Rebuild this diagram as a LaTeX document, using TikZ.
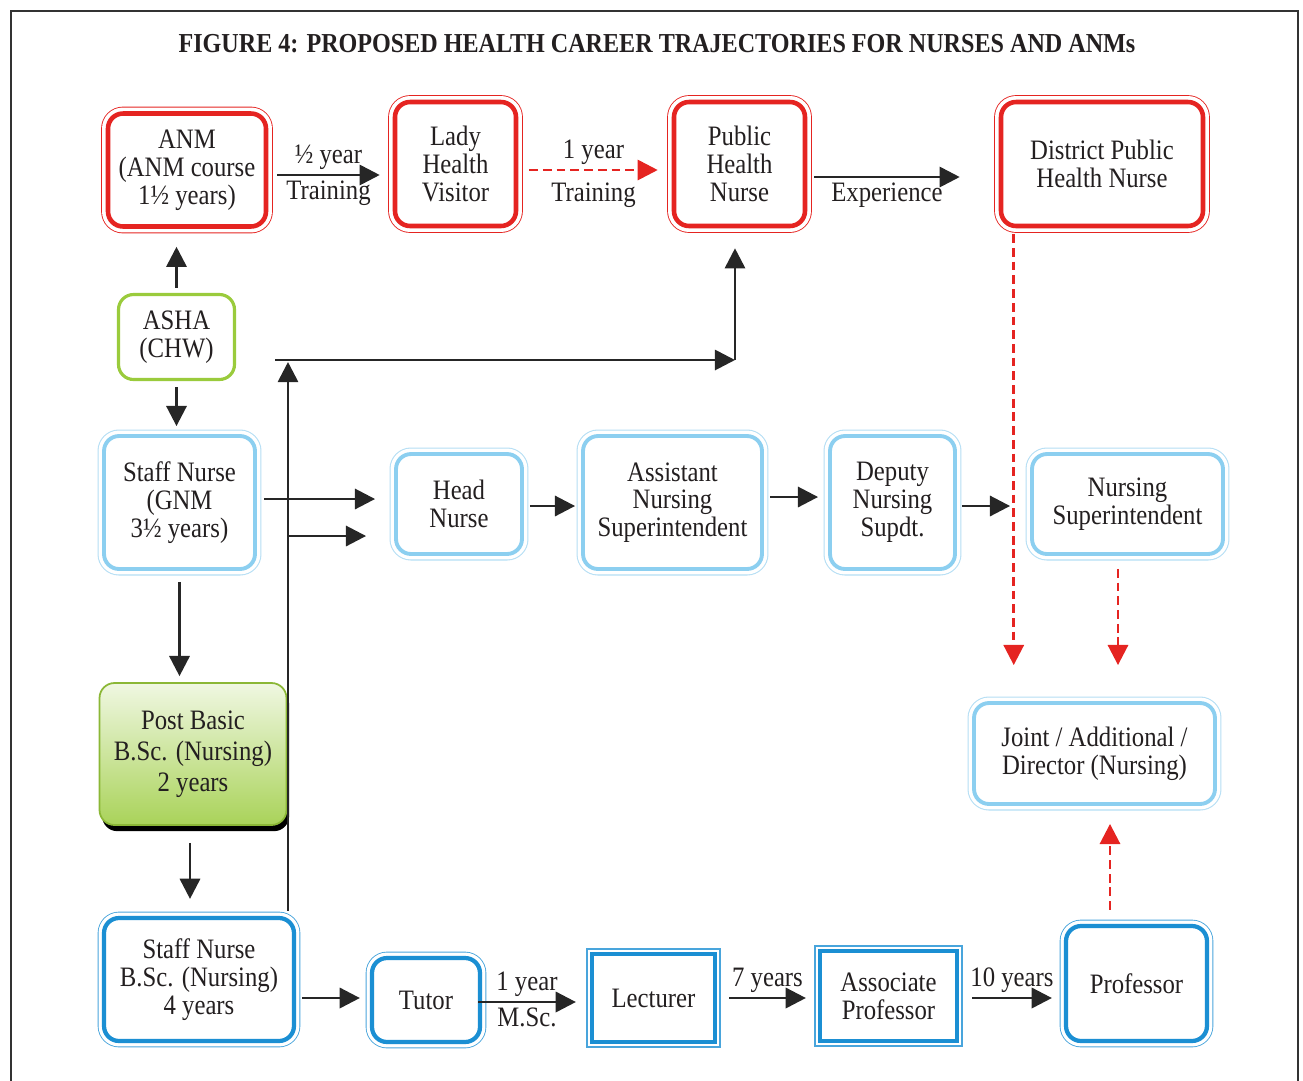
\documentclass[tikz,border=0pt]{standalone}
\usepackage{fontspec}
\setmainfont[FakeStretch=0.88]{Liberation Serif}
\usepackage{xcolor}
\usetikzlibrary{arrows.meta, calc, shadows}
\definecolor{boxred}{HTML}{E52421}
\definecolor{skyout}{HTML}{B4DEF4}
\definecolor{skyin}{HTML}{8CCFF0}
\definecolor{seablue}{HTML}{1B8FD3}
\definecolor{leaf}{HTML}{9ACB3C}
\definecolor{ink}{HTML}{231F20}

\begin{document}
\begin{tikzpicture}[x=0.02cm, y=-0.02cm,
    txt/.style={text=ink, align=center, font=\fontsize{16}{15.8}\selectfont},
    redbox/.style={txt, rounded corners=0.3cm, draw=boxred, line width=2.6pt, fill=white,
        preaction={draw=boxred, line width=7.8pt}, preaction={draw=white, line width=6.8pt}},
    paleblue/.style={txt, rounded corners=0.3cm, draw=skyin, line width=2.2pt, fill=white,
        preaction={draw=skyout, line width=7.4pt}, preaction={draw=white, line width=6.2pt}},
    deepblue/.style={txt, rounded corners=0.3cm, draw=seablue, line width=2.4pt, fill=white,
        preaction={draw=seablue!80, line width=7.2pt}, preaction={draw=white, line width=6.2pt}},
    squareblue/.style={deepblue, sharp corners,
        preaction={draw=seablue!80, line width=5.4pt}, preaction={draw=white, line width=4.2pt}},
    greenbox/.style={txt, rounded corners=0.3cm, draw=leaf, line width=1.8pt, fill=white},
    arr/.style={draw=black!85, line width=1.6pt, -{Triangle[length=11.5pt, width=11.5pt]}},
    redarr/.style={draw=boxred, line width=1.6pt, dash pattern=on 5pt off 2.8pt,
        -{Triangle[length=11.5pt, width=11.5pt]}},
    lbl/.style={txt, inner sep=2.5pt}]

\useasboundingbox (0,0) rectangle (1303,1080);
\draw[black!80, line width=1.2pt] (11,1095) -- (11,11) -- (1298,11) -- (1298,1095);

\node[font=\bfseries\fontsize{15.6}{18}\selectfont, text=ink] (title) at (657,44)
    {FIGURE 4: PROPOSED HEALTH CAREER TRAJECTORIES FOR NURSES AND ANMs};

% top row
\node[redbox, minimum width=3.16cm, minimum height=2.26cm] (anm) at (187,170) {ANM\\(ANM course\\1½ years)};
\node[redbox, minimum width=2.42cm, minimum height=2.48cm] (lhv) at (455.5,164) {Lady\\Health\\Visitor};
\node[redbox, minimum width=2.62cm, minimum height=2.48cm] (phn) at (739.5,164) {Public\\Health\\Nurse};
\node[redbox, minimum width=4.04cm, minimum height=2.48cm] (dphn) at (1102,164) {District Public\\Health Nurse};

\node[greenbox, minimum width=2.32cm, minimum height=1.70cm] (asha) at (176.5,337) {ASHA\\(CHW)};

% middle row
\node[paleblue, minimum width=3.02cm, minimum height=2.66cm] (gnm) at (179.5,502.5) {Staff Nurse\\(GNM\\3½ years)};
\node[paleblue, minimum width=2.52cm, minimum height=2.00cm] (head) at (459,504) {Head\\Nurse};
\node[paleblue, minimum width=3.58cm, minimum height=2.66cm] (ans) at (672.5,502.5) {Assistant\\Nursing\\Superintendent};
\node[paleblue, minimum width=2.50cm, minimum height=2.66cm] (dns) at (892.5,502.5) {Deputy\\Nursing\\Supdt.};
\node[paleblue, minimum width=3.82cm, minimum height=2.00cm] (ns) at (1127.5,504) {Nursing\\Superintendent};
\node[paleblue, minimum width=4.82cm, minimum height=2.02cm] (jad) at (1094.5,753.5) {Joint / Additional /\\Director (Nursing)};

\node[txt, font=\fontsize{16}{17.6}\selectfont, rounded corners=0.3cm, draw=leaf!90!black, line width=1pt,
    top color=leaf!15, bottom color=leaf!85,
    drop shadow={shadow xshift=1.5pt, shadow yshift=-3.5pt, fill=black, opacity=1},
    minimum width=3.74cm, minimum height=2.84cm] (pb) at (193,754) {Post Basic\\B.Sc. (Nursing)\\2 years};

% bottom row
\node[deepblue, minimum width=3.80cm, minimum height=2.46cm] (sn4) at (199,979.5) {Staff Nurse\\B.Sc. (Nursing)\\4 years};
\node[deepblue, minimum width=2.16cm, minimum height=1.68cm] (tutor) at (426,1000) {Tutor};
\node[squareblue, minimum width=2.46cm, minimum height=1.76cm] (lect) at (653.5,998) {Lecturer};
\node[squareblue, minimum width=2.74cm, minimum height=1.80cm] (assoc) at (888.5,996) {Associate\\Professor};
\node[deepblue, minimum width=2.82cm, minimum height=2.30cm] (prof) at (1136.5,983.5) {Professor};

\coordinate (jn) at (288,360);
\coordinate (hs) at (275,360);
\coordinate (hc) at (735,360);
\coordinate (jb) at (288,536);

% connectors
\draw[arr] ($(anm.east)+(9,5)$) -- ($(anm.east -| lhv.west)+(-13,5)$)
    node[lbl, midway, above] {½ year} node[lbl, midway, below] {Training};
\draw[redarr] ($(lhv.east)+(11,6)$) -- ($(lhv.east -| phn.west)+(-14,6)$)
    node[lbl, midway, above] {1 year} node[lbl, midway, below=4pt] {Training};
\draw[arr] ($(phn.east)+(7,13)$) -- ($(phn.east -| dphn.west)+(-39,13)$)
    node[lbl, midway, below] {Experience};
\draw[arr] ($(asha.north)+(0,-5)$) -- ($(asha.north |- anm.south)+(0,18)$);
\draw[arr] ($(asha.south)+(0,6)$) -- ($(asha.south |- gnm.north)+(0,-8)$);
\draw[arr] ($(gnm.east)+(7,-3.5)$) -- ($(gnm.east -| head.west)+(-19,-3.5)$);
\draw[arr] ($(sn4.north -| jn)+(0,-5)$) -- ($(jn)+(0,2)$);
\draw[arr] (hs) -- (hc);
\draw[arr] (hc) -- ($(hc |- phn.south)+(0,20)$);
\draw[arr] (jb) -- ($(jb -| head.west)+(-28,0)$);
\draw[arr] ($(head.east)+(6,2)$) -- ($(head.east -| ans.west)+(-6,2)$);
\draw[arr] ($(ans.east)+(6,-5.5)$) -- ($(ans.east -| dns.west)+(-10,-5.5)$);
\draw[arr] ($(dns.east)+(5,3.5)$) -- ($(dns.east -| ns.west)+(-20,3.5)$);
\draw[redarr] ($(dphn.south west)+(15,6)$) -- ($(dphn.south west |- jad.north)+(15,-36)$);
\draw[redarr] ($(ns.south)+(-9.5,13)$) -- ($(ns.south |- jad.north)+(-9.5,-36)$);
\draw[redarr] ($(prof.north)+(-26.5,-14)$) -- ($(prof.north |- jad.south)+(-26.5,18)$);
\draw[arr] ($(gnm.south)+(0,11)$) -- ($(gnm.south |- pb.north)+(0,-6)$);
\draw[arr] ($(pb.south)+(-3,17)$) -- ($(pb.south |- sn4.north)+(-3,-17)$);
\draw[arr] ($(sn4.east)+(6,18.5)$) -- ($(sn4.east -| tutor.west)+(-10,18.5)$);
\draw[arr] ($(tutor.east)+(-4,2)$) -- ($(tutor.east -| lect.west)+(-14,2)$)
    node[lbl, midway, above] {1 year} node[lbl, midway, below] {M.Sc.};
\draw[arr] ($(lect.east)+(12,0)$) -- ($(lect.east -| assoc.west)+(-12,0)$)
    node[lbl, midway, above] {7 years};
\draw[arr] ($(assoc.east)+(13,2)$) -- ($(assoc.east -| prof.west)+(-12,2)$)
    node[lbl, midway, above] {10 years};
\end{tikzpicture}
\end{document}
